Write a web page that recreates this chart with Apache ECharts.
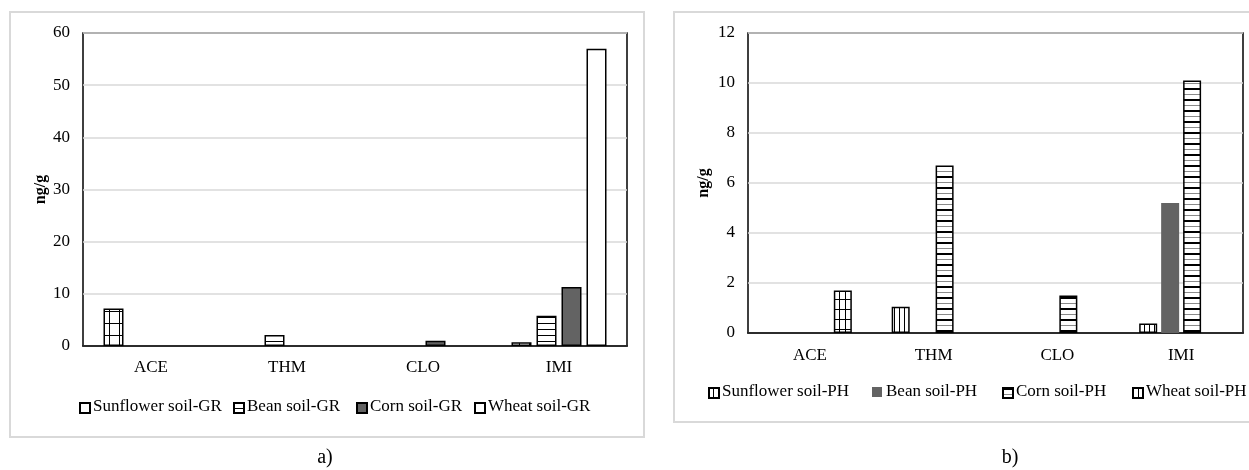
<!DOCTYPE html>
<html>
<head>
<meta charset="utf-8">
<script src="https://cdn.jsdelivr.net/npm/echarts@6/dist/echarts.min.js"></script>
<style>
  html, body { margin: 0; padding: 0; background: #fff; }
  #main { width: 1249px; height: 470px; }
</style>
</head>
<body>
<div id="main"></div>
<script>
const categories = ["ACE", "THM", "CLO", "IMI"];
const grNames = ["Sunflower soil-GR", "Bean soil-GR", "Corn soil-GR", "Wheat soil-GR"];
const phNames = ["Sunflower soil-PH", "Bean soil-PH", "Corn soil-PH", "Wheat soil-PH"];

// panel a) values, ng/g
const sunflowerGR = [7.2, 0, 0, 0.7];
const beanGR = [0, 2.1, 0, 5.8];
const cornGR = [0, 0, 1.0, 11.3];
const wheatGR = [0, 0, 0, 57];

// panel b) values, ng/g
const sunflowerPH = [0, 1.05, 0, 0.38];
const beanPH = [0, 0, 0, 5.2];
const cornPH = [0, 6.7, 1.5, 10.1];
const wheatPH = [1.7, 0, 0, 0];

const grTicks = { min: 0, max: 60, interval: 10 };
const phTicks = { min: 0, max: 12, interval: 2 };

const FONT = "Liberation Serif";
const DARK = "#636363";

const pattern = (w, h, draw) => {
    const c = document.createElement("canvas");
    c.width = w;
    c.height = h;
    const ctx = c.getContext("2d");
    ctx.fillStyle = "#fff";
    ctx.fillRect(0, 0, w, h);
    ctx.fillStyle = "#000";
    draw(ctx);
    return { image: c, repeat: "repeat" };
};

const gridGR = pattern(10, 12, (ctx) => {
    ctx.fillRect(9, 0, 1, 12);
    ctx.fillRect(0, 11, 10, 1);
});
const hLinesGR = pattern(1, 6, (ctx) => ctx.fillRect(0, 5, 1, 1));
const vLinesPH = pattern(5, 1, (ctx) => ctx.fillRect(4, 0, 1, 1));
const hLinesPH = pattern(1, 11, (ctx) => {
    ctx.fillRect(0, 0, 1, 2);
    ctx.fillStyle = "#8a8a8a";
    ctx.fillRect(0, 6, 1, 1);
});
const gridPH = pattern(6, 10, (ctx) => {
    ctx.fillRect(5, 0, 1, 10);
    ctx.fillRect(0, 9, 6, 1);
});

const border = { borderColor: "#000", borderWidth: 1.5 };
const labelText = { color: "#000", fontFamily: FONT, fontSize: 17 };

// zero readings are simply not drawn, like in the original figure
const bar = (name, data, idx, fill, width, gap, withBorder = true) => ({
    name,
    type: "bar",
    xAxisIndex: idx,
    yAxisIndex: idx,
    data: data.map((v) => (v === 0 ? "-" : v)),
    barWidth: width,
    barGap: gap,
    itemStyle: withBorder ? { color: fill, ...border } : { color: fill },
});

const xAxisBase = (idx, margin) => ({
    type: "category",
    gridIndex: idx,
    data: categories,
    axisTick: { show: false },
    axisLine: { lineStyle: { color: "#000", width: 1.5 } },
    axisLabel: { ...labelText, margin },
});

const yAxisBase = (idx, ticks, gap) => ({
    type: "value",
    gridIndex: idx,
    ...ticks,
    name: "ng/g",
    nameLocation: "middle",
    nameGap: gap,
    nameRotate: 90,
    nameTextStyle: { color: "#000", fontFamily: FONT, fontSize: 16, fontWeight: "bold" },
    axisLine: { show: false },
    axisTick: { show: false },
    axisLabel: { ...labelText, margin: 13 },
    splitLine: { lineStyle: { color: "#d9d9d9", width: 1.5 } },
});

// legend text kept falling back to a sans face, so each legend only draws its
// swatch and the label is placed next to it as a plain serif text element
const grKeyX = [79, 233, 356, 474];
const phKeyX = [708, 872, 1002, 1132];

const legendKeys = (names, xs, yc) => names.map((name, i) => ({
    data: [name],
    left: xs[i],
    top: yc - 5,
    padding: 0,
    itemWidth: 10,
    itemHeight: 10,
    icon: "rect",
    formatter: () => "",
}));

const legendTexts = (names, xs, yc) => names.map((name, i) => ({
    type: "text",
    x: xs[i] + 14,
    y: yc,
    style: { text: name, fill: "#000", fontFamily: FONT, fontSize: 17, verticalAlign: "middle" },
}));

const chart = echarts.init(document.getElementById("main"));
chart.setOption({
    animation: false,
    grid: [
        { left: 83, top: 33, width: 544, height: 313, show: true, borderColor: "#000", borderWidth: 1.5 },
        { left: 748, top: 33, width: 495, height: 300, show: true, borderColor: "#000", borderWidth: 1.5 },
    ],
    xAxis: [xAxisBase(0, 13), xAxisBase(1, 14)],
    yAxis: [yAxisBase(0, grTicks, 34), yAxisBase(1, phTicks, 36)],
    legend: [...legendKeys(grNames, grKeyX, 407), ...legendKeys(phNames, phKeyX, 392)],
    graphic: [
        { type: "rect", shape: { x: 10, y: 12, width: 634, height: 425 }, style: { fill: null, stroke: "#d9d9d9", lineWidth: 2 }, z: -1 },
        { type: "rect", shape: { x: 674, y: 12, width: 590, height: 410 }, style: { fill: null, stroke: "#d9d9d9", lineWidth: 2 }, z: -1 },
        ...legendTexts(grNames, grKeyX, 407),
        ...legendTexts(phNames, phKeyX, 392),
        { type: "text", x: 325, y: 458, style: { text: "a)", fill: "#000", fontFamily: FONT, fontSize: 20, align: "center", verticalAlign: "middle" } },
        { type: "text", x: 1010, y: 458, style: { text: "b)", fill: "#000", fontFamily: FONT, fontSize: 20, align: "center", verticalAlign: "middle" } },
    ],
    series: [
        bar(grNames[0], sunflowerGR, 0, gridGR, 20, "25%"),
        bar(grNames[1], beanGR, 0, hLinesGR, 20, "25%"),
        bar(grNames[2], cornGR, 0, DARK, 20, "25%"),
        bar(grNames[3], wheatGR, 0, "#fff", 20, "25%"),
        bar(phNames[0], sunflowerPH, 1, vLinesPH, 18, "22%"),
        bar(phNames[1], beanPH, 1, DARK, 18, "22%", false),
        bar(phNames[2], cornPH, 1, hLinesPH, 18, "22%"),
        bar(phNames[3], wheatPH, 1, gridPH, 18, "22%"),
    ],
});
</script>
</body>
</html>
